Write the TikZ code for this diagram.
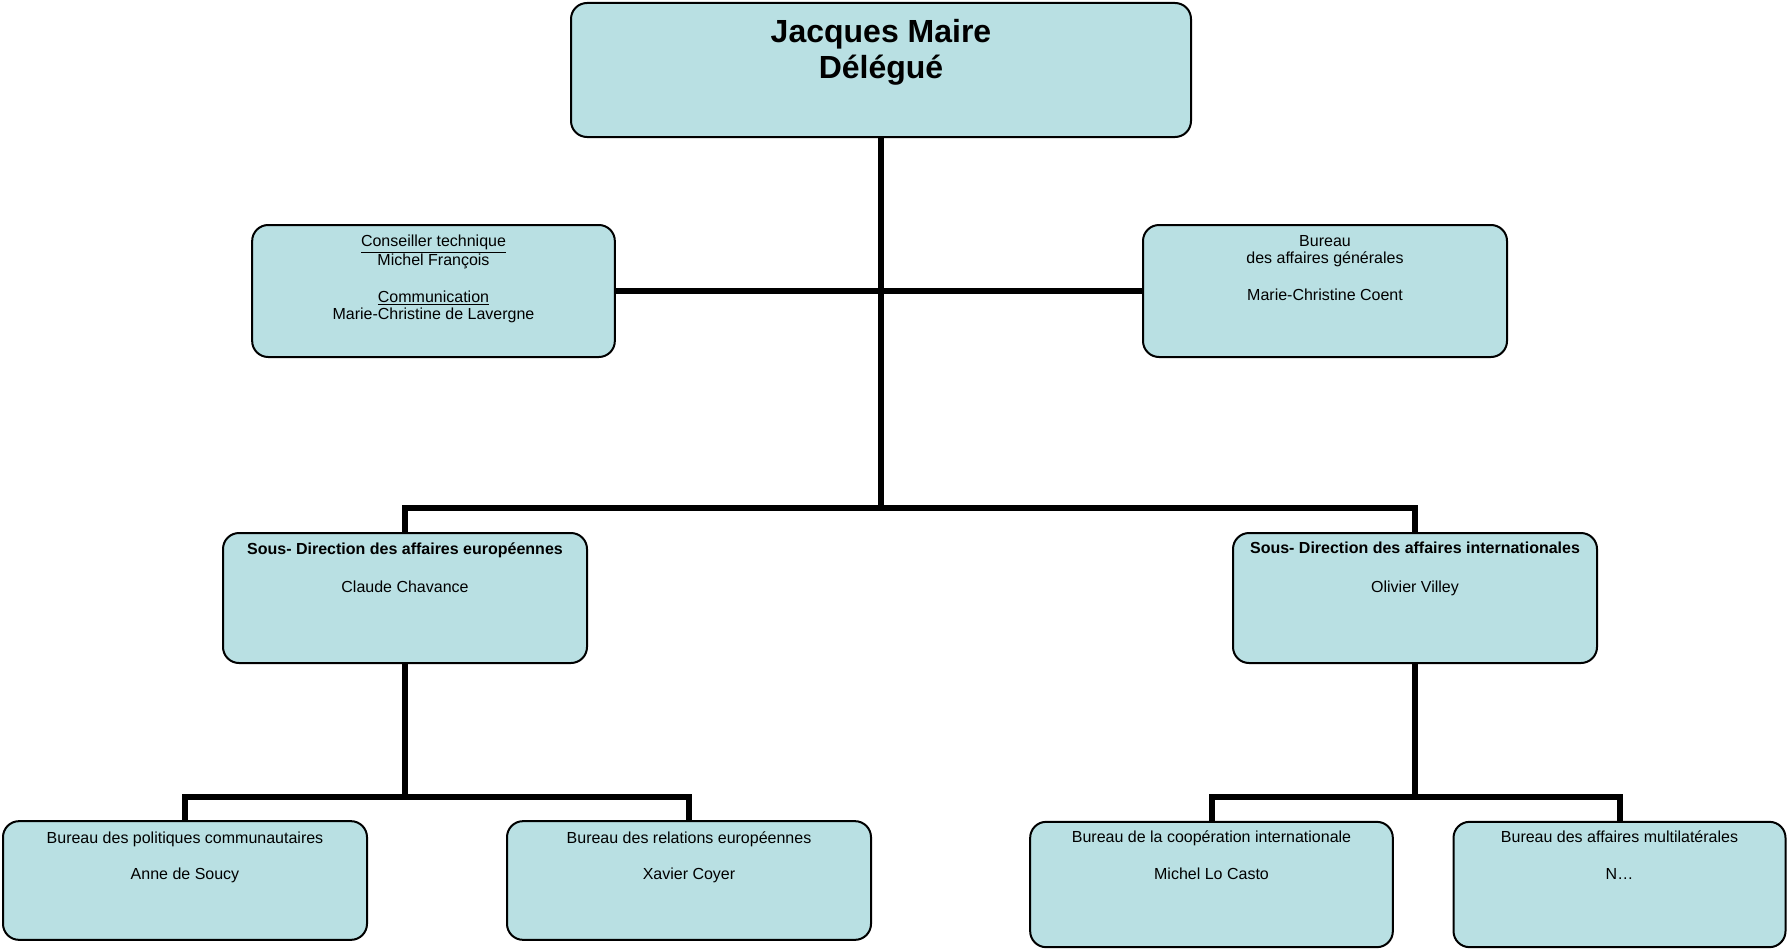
\documentclass[tikz,border=0pt]{standalone}
\usepackage{fontspec}
\setmainfont{Liberation Sans}
\usetikzlibrary{positioning}
\definecolor{boxfill}{RGB}{185,224,227}
\begin{document}
\begin{tikzpicture}[x=0.75pt,y=-0.75pt,
 orgbox/.style={draw=black, line width=1.5pt, fill=boxfill, rounded corners=12pt, inner sep=0pt},
 conn/.style={draw=black, line width=4.5pt, line cap=butt, line join=miter},
 txt/.style={inner sep=0pt, align=center, font=\fontsize{12}{13}\selectfont, text=black},
 bigtxt/.style={inner sep=0pt, align=center, font=\fontsize{24}{27}\selectfont\bfseries, text=black}
]
\useasboundingbox (0,0) rectangle (1787,949);

% connectors
\coordinate (j1) at (881,508);
\coordinate (j2) at (405,797);
\coordinate (j3) at (1415,797);

\node[orgbox, minimum width=465pt, minimum height=100.5pt] (top) at (881,70) {};
\node[orgbox, minimum width=272pt, minimum height=99pt] (midL) at (433.5,291) {};
\node[orgbox, minimum width=273pt, minimum height=99pt] (midR) at (1325,291) {};
\node[orgbox, minimum width=273pt, minimum height=97.5pt] (sousL) at (405,598) {};
\node[orgbox, minimum width=273pt, minimum height=97.5pt] (sousR) at (1415,598) {};
\node[orgbox, minimum width=273pt, minimum height=89pt] (botL1) at (185,880.5) {};
\node[orgbox, minimum width=273pt, minimum height=89pt] (botL2) at (689,880.5) {};
\node[orgbox, minimum width=272pt, minimum height=94pt] (botR1) at (1211.5,884.5) {};
\node[orgbox, minimum width=249pt, minimum height=94pt] (botR2) at (1619.5,884.5) {};

\draw[conn] (top.south) -- (j1);
\draw[conn] (midL.east) -- (midR.west);
\draw[conn] (sousL.north) |- (j1) -| (sousR.north);
\draw[conn] (sousL.south) -- (j2);
\draw[conn] (botL1.north) |- (j2) -| (botL2.north);
\draw[conn] (sousR.south) -- (j3);
\draw[conn] (botR1.north) |- (j3) -| (botR2.north);

% texts
\node[bigtxt, below=12.5pt of top.north] (ttop) {Jacques Maire\\Délégué};
\node[txt, below=8.25pt of midL.north] (tmidL) {\underline{Conseiller technique}\\Michel François\\[14.5pt]\underline{Communication}\\Marie-Christine de Lavergne};
\node[txt, below=8.25pt of midR.north] (tmidR) {Bureau\\des affaires générales\\[14.5pt]Marie-Christine Coent};
\node[txt, below=7.5pt of sousL.north] (tsousL) {\textbf{Sous- Direction des affaires européennes}\\[16pt]Claude Chavance};
\node[txt, below=7.5pt of sousR.north] (tsousR) {\textbf{Sous- Direction des affaires internationales}\\[16pt]Olivier Villey};
\node[txt, below=8.25pt of botL1.north] (tbotL1) {Bureau des politiques communautaires\\[14.5pt]Anne de Soucy};
\node[txt, below=8.25pt of botL2.north] (tbotL2) {Bureau des relations européennes\\[14.5pt]Xavier Coyer};
\node[txt, below=7.5pt of botR1.north] (tbotR1) {Bureau de la coopération internationale\\[14.5pt]Michel Lo Casto};
\node[txt, below=7.5pt of botR2.north] (tbotR2) {Bureau des affaires multilatérales\\[14.5pt]N…};
\end{tikzpicture}
\end{document}
